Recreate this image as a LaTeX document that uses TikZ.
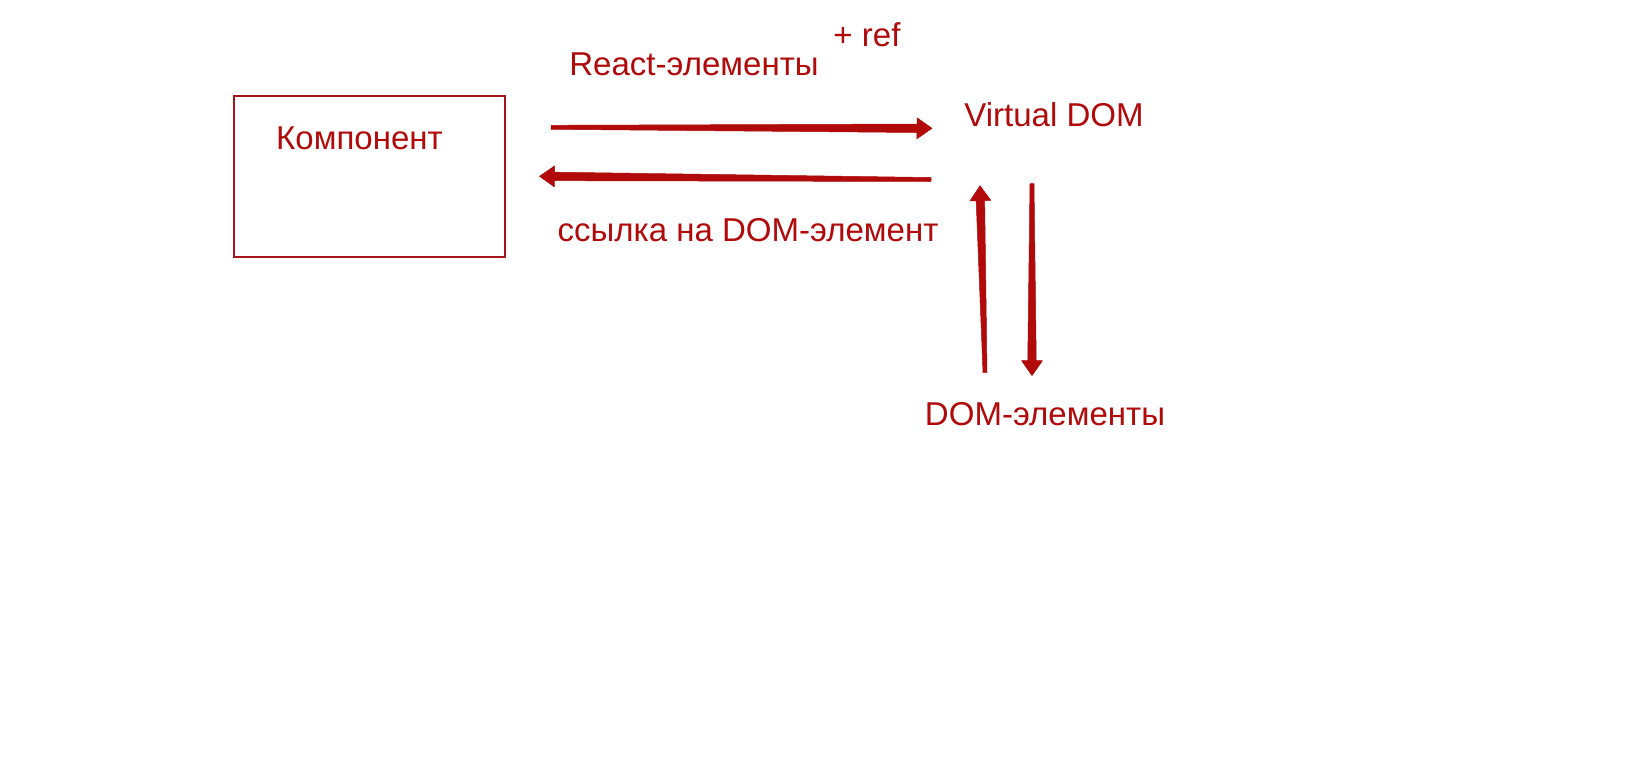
\documentclass[tikz,border=0pt]{standalone}
\usepackage{fontspec}
\setmainfont{Liberation Sans}
\usepackage{tikz}
\usetikzlibrary{calc}

\definecolor{dred}{HTML}{B00A0A}
\definecolor{boxred}{HTML}{A5161C}

\begin{document}
\begin{tikzpicture}[
    lbl/.style={anchor=base, inner sep=0pt, text=dred, font=\fontsize{18.8}{22}\selectfont},
    compbox/.style={draw=boxred, line width=0.04cm, minimum width=5.41cm, minimum height=3.21cm},
    arr/.style={fill=dred, draw=dred, line width=0.01cm, line join=round}
  ]
  \useasboundingbox (0,0) rectangle (32.72,-15.66);

  % component box
  \node[compbox] (komp) at (7.39,-3.53) {};

  % labels
  \node[lbl] (kompt) at (7.19,-2.98) {Компонент};
  \node[lbl] (react) at (13.88,-1.50) {React-элементы};
  \node[lbl] (ref)   at (17.34,-0.92) {+ ref};
  \node[lbl] (vdom)  at (21.08,-2.53) {Virtual DOM};
  \node[lbl] (link)  at (14.96,-4.82) {ссылка на DOM-элемент};
  \node[lbl] (dom)   at (20.90,-8.51) {DOM-элементы};

  % arrow ends
  \foreach \c/\x/\y in {a1s/11.02/-2.546, a1e/18.64/-2.566,
                        a2s/18.62/-3.59,  a2e/10.79/-3.526,
                        a3s/19.70/-7.45,  a3e/19.60/-3.714,
                        a4s/20.64/-3.672, a4e/20.64/-7.512} {
    \coordinate (\c) at (\x,\y);
  }

  % arrows, thicker towards the head
  \foreach \s/\e in {a1s/a1e, a2s/a2e, a3s/a3e, a4s/a4e} {
    \coordinate (hb) at ($(\e)!0.3cm!(\s)$);
    \path[arr] ($(\s)!0.04cm!90:(\e)$) -- ($(hb)!0.085cm!90:(\e)$)
      -- ($(hb)!0.21cm!90:(\e)$) -- (\e) -- ($(hb)!0.21cm!-90:(\e)$)
      -- ($(hb)!0.085cm!-90:(\e)$) -- ($(\s)!0.04cm!-90:(\e)$) -- cycle;
  }
\end{tikzpicture}
\end{document}
